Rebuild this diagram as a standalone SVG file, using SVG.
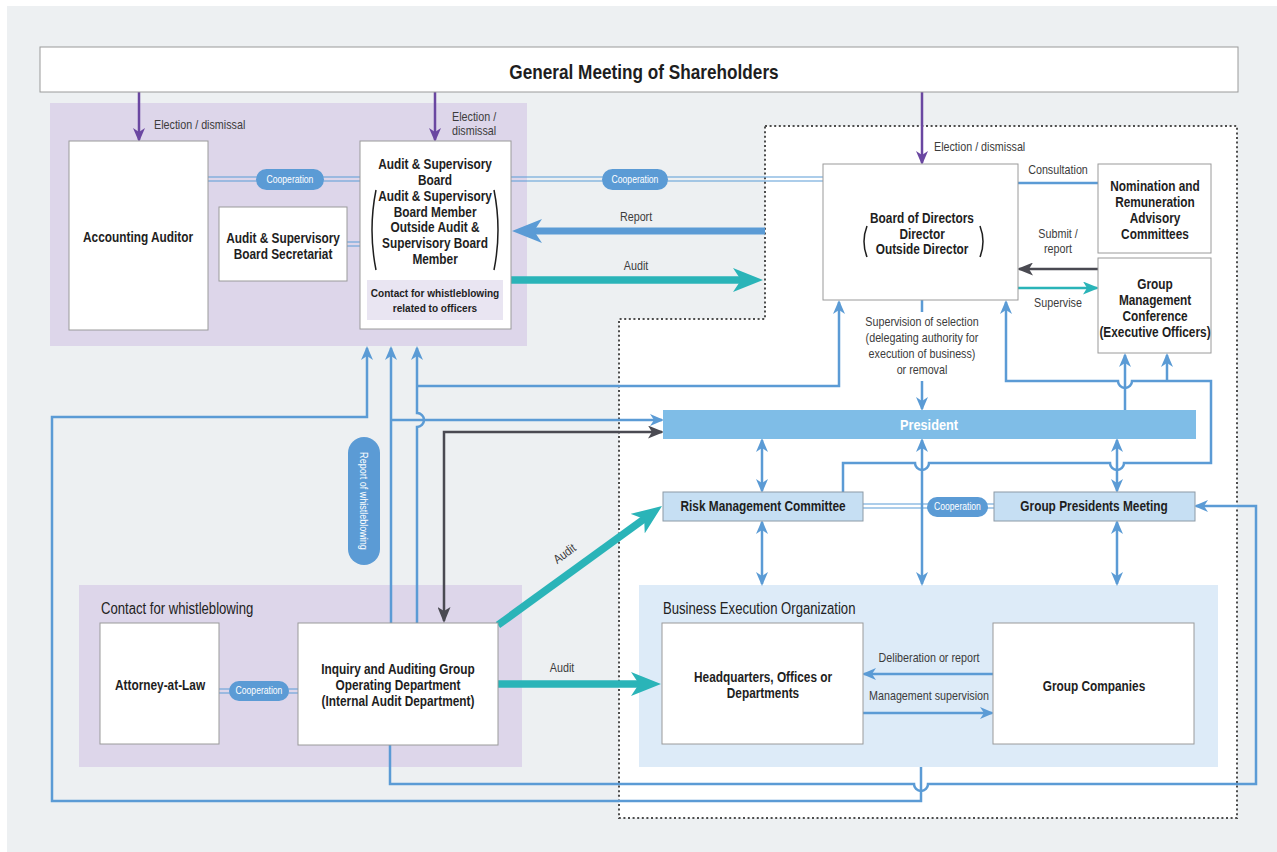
<svg xmlns="http://www.w3.org/2000/svg" width="1277" height="852" viewBox="0 0 1277 852">
<defs>
<style>
text{font-family:"Liberation Sans",Arial,sans-serif;transform-box:fill-box;transform-origin:50% 50%;transform:scaleX(0.86);}
.st{transform-origin:0 50%;}
.b{font-weight:bold;font-size:15px;fill:#1e1e1e;text-anchor:middle;transform:scaleX(0.79);}
.bs{font-weight:bold;font-size:11.7px;fill:#1e1e1e;text-anchor:middle;}
.gms{font-weight:bold;font-size:20px;fill:#1e1e1e;text-anchor:middle;}
.pres{font-weight:bold;font-size:14.5px;fill:#fff;text-anchor:middle;transform:scaleX(0.88);}
.lb{font-size:12.5px;fill:#3c3c3c;}
.lbc{font-size:12.5px;fill:#3c3c3c;text-anchor:middle;}
.rg{font-size:16px;fill:#222;transform:scaleX(0.82);}
.box{fill:#fff;stroke:#9a9a9a;stroke-width:1;}
.lbox{fill:#c6dff3;stroke:#8c9aa6;stroke-width:1;}
.ln{fill:none;stroke:#5b9bd5;stroke-width:2.5;}
.dbl{fill:none;stroke:#5b9bd5;stroke-width:1.2;}
.pill{fill:#5b9bd5;}
.pt{font-size:10px;fill:#fff;text-anchor:middle;}
.pt2{font-size:10.5px;fill:#fff;text-anchor:middle;}
.par{fill:none;stroke:#1e1e1e;stroke-width:1.5;}
.purp{fill:#ddd6ea;}
</style>
<marker id="mB" viewBox="0 0 14 12" markerWidth="14" markerHeight="12" refX="12" refY="6" orient="auto-start-reverse" markerUnits="userSpaceOnUse"><path d="M0,0 L14,6 L0,12 L4,6 Z" fill="#5b9bd5"/></marker>
<marker id="mP" viewBox="0 0 14 12" markerWidth="14" markerHeight="12" refX="12" refY="6" orient="auto" markerUnits="userSpaceOnUse"><path d="M0,0 L14,6 L0,12 L4,6 Z" fill="#6a47a1"/></marker>
<marker id="mG" viewBox="0 0 16 13" markerWidth="16" markerHeight="13" refX="14" refY="6.5" orient="auto-start-reverse" markerUnits="userSpaceOnUse"><path d="M0,0 L16,6.5 L0,13 L4,6.5 Z" fill="#4a4a52"/></marker>
<marker id="mT" viewBox="0 0 16 13" markerWidth="16" markerHeight="13" refX="14" refY="6.5" orient="auto" markerUnits="userSpaceOnUse"><path d="M0,0 L16,6.5 L0,13 L4,6.5 Z" fill="#2ab4b8"/></marker>
<marker id="mBT" viewBox="0 0 30 24" markerWidth="30" markerHeight="24" refX="10" refY="12" orient="auto" markerUnits="userSpaceOnUse"><path d="M0,0 L30,12 L0,24 L8,12 Z" fill="#5b9bd5"/></marker>
<marker id="mTT" viewBox="0 0 30 24" markerWidth="30" markerHeight="24" refX="10" refY="12" orient="auto" markerUnits="userSpaceOnUse"><path d="M0,0 L30,12 L0,24 L8,12 Z" fill="#2ab4b8"/></marker>
</defs>

<rect x="0" y="0" width="1277" height="852" fill="#fff"/>
<rect x="7" y="6" width="1270" height="846" fill="#edf0f2"/>

<!-- regions -->
<g id="audit-region"><rect x="50" y="103" width="477" height="243" class="purp"/></g>
<g id="executive-area"><path d="M765,126 H1237 V818 H619 V319 H765 Z" fill="#fff" stroke="#4d4d4d" stroke-width="2" stroke-dasharray="2 2.6"/></g>
<g id="whistle-region"><rect x="79" y="585" width="443" height="182" class="purp"/><text x="101" y="614.5" class="rg st">Contact for whistleblowing</text></g>
<g id="beo-region"><rect x="639" y="585" width="579" height="182" fill="#ddebf8"/><text x="663" y="614.5" class="rg st">Business Execution Organization</text></g>

<!-- connectors -->
<g id="connectors">
  <path d="M139,92 V140" stroke="#6a47a1" stroke-width="2.5" fill="none" marker-end="url(#mP)"/>
  <path d="M435,92 V140" stroke="#6a47a1" stroke-width="2.5" fill="none" marker-end="url(#mP)"/>
  <path d="M922,92 V163" stroke="#6a47a1" stroke-width="2.5" fill="none" marker-end="url(#mP)"/>
  <path d="M208,177 H360 M208,181 H360" class="dbl"/>
  <path d="M347,242 H360 M347,246 H360" class="dbl"/>
  <path d="M511,177 H823 M511,181 H823" class="dbl"/>
  <path d="M863,504 H994 M863,508 H994" class="dbl"/>
  <path d="M219,689 H298 M219,693 H298" class="dbl"/>
  <path d="M765,231 H532" stroke="#5b9bd5" stroke-width="7" fill="none" marker-end="url(#mBT)"/>
  <path d="M511,280 H743" stroke="#2ab4b8" stroke-width="7.5" fill="none" marker-end="url(#mTT)"/>
  <path d="M498,684 H641" stroke="#2ab4b8" stroke-width="7.5" fill="none" marker-end="url(#mTT)"/>
  <path d="M498,625 L645.8,517.8" stroke="#2ab4b8" stroke-width="7.5" fill="none" marker-end="url(#mTT)"/>
  <path d="M1018,183 H1098" class="ln"/>
  <path d="M1098,269 H1019" stroke="#4a4a52" stroke-width="2.5" fill="none" marker-end="url(#mG)"/>
  <path d="M1018,288 H1097" stroke="#2ab4b8" stroke-width="2.5" fill="none" marker-end="url(#mT)"/>
  <path d="M922,300 V312" class="ln"/>
  <path d="M922,381 V409" class="ln" marker-end="url(#mB)"/>
  <path d="M921,767 V801 H52 V417 H367 V348" class="ln" marker-end="url(#mB)"/>
  <path d="M390,745 V784 H914 A7,7 0 0 0 928,784 H1256 V506 H1196" class="ln" marker-end="url(#mB)"/>
  <path d="M391,623 V348" class="ln" marker-end="url(#mB)"/>
  <path d="M391,420 H662" class="ln" marker-end="url(#mB)"/>
  <path d="M417,623 V427 A7,7 0 0 0 417,413 V348" class="ln" marker-end="url(#mB)"/>
  <path d="M417,386 H839 V302" class="ln" marker-end="url(#mB)"/>
  <path d="M444,621 V432 H662" stroke="#4a4a52" stroke-width="2.5" fill="none" marker-start="url(#mG)" marker-end="url(#mG)"/>
  <path d="M843,492 V463 H915 A7,7 0 0 0 929,463 H1110 A7,7 0 0 0 1124,463 H1211 V381 H1132 A7,7 0 0 1 1118,381 H1006 V302" class="ln" marker-end="url(#mB)"/>
  <path d="M1125,410 V355" class="ln" marker-end="url(#mB)"/>
  <path d="M1167,381 V355" class="ln" marker-end="url(#mB)"/>
  <path d="M762,440 V491" class="ln" marker-start="url(#mB)" marker-end="url(#mB)"/>
  <path d="M762,522 V584" class="ln" marker-start="url(#mB)" marker-end="url(#mB)"/>
  <path d="M922,440 V584" class="ln" marker-start="url(#mB)" marker-end="url(#mB)"/>
  <path d="M1117,440 V491" class="ln" marker-start="url(#mB)" marker-end="url(#mB)"/>
  <path d="M1117,522 V584" class="ln" marker-start="url(#mB)" marker-end="url(#mB)"/>
  <path d="M993,674 H864" class="ln" marker-end="url(#mB)"/>
  <path d="M863,713 H992" class="ln" marker-end="url(#mB)"/>
  <rect x="256" y="169" width="68" height="21" rx="10.5" class="pill"/><text x="290" y="183" class="pt">Cooperation</text>
  <rect x="602" y="169" width="66" height="21" rx="10.5" class="pill"/><text x="635" y="183" class="pt">Cooperation</text>
  <rect x="927" y="497" width="61" height="20" rx="10" class="pill"/><text x="957.5" y="510.5" class="pt">Cooperation</text>
  <rect x="229" y="681" width="60" height="20" rx="10" class="pill"/><text x="259" y="694.5" class="pt">Cooperation</text>
  <rect x="348" y="437" width="32" height="128" rx="16" class="pill"/><g transform="translate(364,501) rotate(90)"><text x="0" y="3.5" class="pt2">Report of whistleblowing</text></g>
  <text x="154" y="129" class="lb st">Election / dismissal</text>
  <text x="452" y="121" class="lb st">Election /</text>
  <text x="452" y="135" class="lb st">dismissal</text>
  <text x="934" y="151" class="lb st">Election / dismissal</text>
  <text x="636" y="221" class="lbc">Report</text>
  <text x="636" y="270" class="lbc">Audit</text>
  <text x="1058" y="174" class="lbc">Consultation</text>
  <text x="1058" y="238" class="lbc">Submit /</text>
  <text x="1058" y="253" class="lbc">report</text>
  <text x="1058" y="307" class="lbc">Supervise</text>
  <text x="922" y="326" class="lbc">Supervision of selection</text>
  <text x="922" y="342" class="lbc">(delegating authority for</text>
  <text x="922" y="358" class="lbc">execution of business)</text>
  <text x="922" y="374" class="lbc">or removal</text>
  <g transform="translate(567,557) rotate(-36)"><text x="0" y="0" class="lbc">Audit</text></g>
  <text x="562" y="672" class="lbc">Audit</text>
  <text x="929" y="662" class="lbc">Deliberation or report</text>
  <text x="929" y="700" class="lbc">Management supervision</text>
</g>

<!-- nodes -->
<g id="gms"><rect x="40" y="47" width="1198" height="45" class="box"/><text x="644" y="79" class="gms">General Meeting of Shareholders</text></g>
<g id="accounting-auditor"><rect x="69" y="141" width="139" height="189" class="box"/><text x="138" y="242.5" class="b">Accounting Auditor</text></g>
<g id="secretariat"><rect x="219" y="207" width="128" height="74" class="box"/><text x="283" y="243.5" class="b">Audit &amp; Supervisory</text><text x="283" y="259" class="b">Board Secretariat</text></g>
<g id="audit-board">
  <rect x="360" y="141" width="151" height="188" class="box"/>
  <text x="435" y="169.5" class="b">Audit &amp; Supervisory</text>
  <text x="435" y="185" class="b">Board</text>
  <text x="435" y="201.5" class="b">Audit &amp; Supervisory</text>
  <text x="435" y="217" class="b">Board Member</text>
  <text x="435" y="232.5" class="b">Outside Audit &amp;</text>
  <text x="435" y="248.5" class="b">Supervisory Board</text>
  <text x="435" y="264.5" class="b">Member</text>
  <path d="M376,190 Q368,230 376,270" class="par"/>
  <path d="M494,190 Q502,230 494,270" class="par"/>
  <rect x="367" y="280" width="136" height="40" fill="#e9e5f2"/>
  <text x="435" y="297" class="bs">Contact for whistleblowing</text>
  <text x="435" y="312" class="bs">related to officers</text>
</g>
<g id="board-of-directors">
  <rect x="823" y="164" width="195" height="136" class="box"/>
  <text x="922" y="223.5" class="b">Board of Directors</text>
  <text x="922" y="239.5" class="b">Director</text>
  <text x="922" y="254.5" class="b">Outside Director</text>
  <path d="M867,226 Q861,241.5 867,257" class="par"/>
  <path d="M980,226 Q986,241.5 980,257" class="par"/>
</g>
<g id="nomination"><rect x="1098" y="164" width="113" height="89" class="box"/><text x="1155" y="191.5" class="b">Nomination and</text><text x="1155" y="207.5" class="b">Remuneration</text><text x="1155" y="223.5" class="b">Advisory</text><text x="1155" y="239.5" class="b">Committees</text></g>
<g id="gmc"><rect x="1098" y="258" width="113" height="95" class="box"/><text x="1155" y="289.5" class="b">Group</text><text x="1155" y="305.5" class="b">Management</text><text x="1155" y="321.5" class="b">Conference</text><text x="1155" y="337.5" class="b">(Executive Officers)</text></g>
<g id="president"><rect x="663" y="410" width="533" height="29" fill="#7fbde7"/><text x="929" y="430" class="pres">President</text></g>
<g id="rmc"><rect x="663" y="492" width="200" height="29" class="lbox"/><text x="763" y="511.5" class="b">Risk Management Committee</text></g>
<g id="gpm"><rect x="994" y="492" width="201" height="29" class="lbox"/><text x="1094" y="511.5" class="b">Group Presidents Meeting</text></g>
<g id="attorney"><rect x="100" y="623" width="119" height="121" class="box"/><text x="160" y="690.5" class="b">Attorney-at-Law</text></g>
<g id="inquiry"><rect x="298" y="623" width="200" height="122" class="box"/><text x="398" y="674.5" class="b">Inquiry and Auditing Group</text><text x="398" y="690.5" class="b">Operating Department</text><text x="398" y="706.5" class="b">(Internal Audit Department)</text></g>
<g id="hq"><rect x="662" y="623" width="201" height="121" class="box"/><text x="763" y="682.5" class="b">Headquarters, Offices or</text><text x="763" y="698.5" class="b">Departments</text></g>
<g id="group-companies"><rect x="993" y="623" width="201" height="121" class="box"/><text x="1094" y="691.5" class="b">Group Companies</text></g>
</svg>
